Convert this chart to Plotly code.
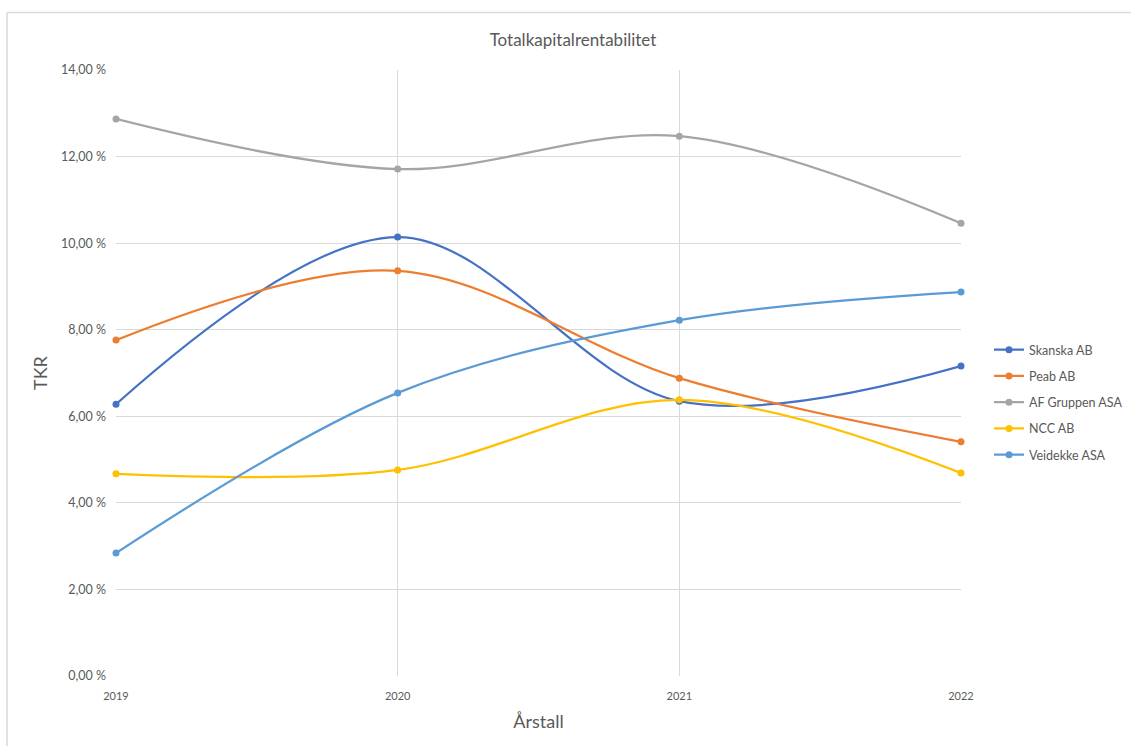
import plotly.graph_objects as go

years = [2019, 2020, 2021, 2022]
skanska = [6.28, 10.14, 6.35, 7.16]
peab = [7.76, 9.36, 6.88, 5.41]
af_gruppen = [12.87, 11.71, 12.47, 10.46]
ncc = [4.67, 4.76, 6.38, 4.69]
veidekke = [2.84, 6.54, 8.22, 8.87]

series = [
    ("Skanska AB", skanska, "#4472C4"),
    ("Peab AB", peab, "#ED7D31"),
    ("AF Gruppen ASA", af_gruppen, "#A5A5A5"),
    ("NCC AB", ncc, "#FFC000"),
    ("Veidekke ASA", veidekke, "#5B9BD5"),
]

FONT = "Lato, 'Open Sans', sans-serif"
GREY = "#595959"

fig = go.Figure()
for name, vals, col in series:
    fig.add_trace(go.Scatter(
        x=years, y=vals, name=name, legendgroup=name,
        mode="lines+markers", cliponaxis=False,
        line=dict(color=col, width=2.25, shape="spline", smoothing=1.0),
        marker=dict(color=col, size=7),
    ))

fig.update_layout(
    width=1131, height=746,
    margin=dict(l=116, r=170, t=70, b=70),
    paper_bgcolor="white", plot_bgcolor="white",
    separators=", ",
    font=dict(family=FONT, color=GREY, size=11),
    title=dict(text="Totalkapitalrentabilitet", x=573 / 1131, xanchor="center",
               y=1 - 40 / 746, yanchor="middle",
               font=dict(size=17, color=GREY, family=FONT)),
    xaxis=dict(
        range=[2019, 2022], tickvals=years, ticktext=[str(y) for y in years],
        showgrid=True, gridcolor="#d9d9d9", gridwidth=1,
        zeroline=False, showline=False, ticks="",
        ticklabelstandoff=12,
        tickfont=dict(size=11, color=GREY),
        title=dict(text="Årstall", font=dict(size=18, color=GREY), standoff=14),
    ),
    yaxis=dict(
        range=[0, 14], dtick=2, tickformat=".2f", ticksuffix=" %",
        showgrid=True, gridcolor="#d9d9d9", gridwidth=1,
        zeroline=False, showline=False, ticks="",
        ticklabelstandoff=9,
        tickfont=dict(size=12.5, color=GREY),
        title=dict(text="TKR", font=dict(size=18, color=GREY), standoff=8),
    ),
    legend=dict(
        xref="container", yref="container",
        x=989 / 1131, y=1 - 335 / 746, xanchor="left", yanchor="top",
        font=dict(size=12.5, color=GREY), traceorder="grouped",
        tracegroupgap=7, bgcolor="rgba(0,0,0,0)",
    ),
    shapes=[
        dict(type="line", xref="paper", yref="paper",
             x0=(7 - 116) / 845, x1=(1131 - 116) / 845,
             y0=(676 - 12.5) / 606, y1=(676 - 12.5) / 606,
             line=dict(color="#d9d9d9", width=1.5)),
        dict(type="line", xref="paper", yref="paper",
             x0=(7 - 116) / 845, x1=(7 - 116) / 845,
             y0=(676 - 12.5) / 606, y1=(676 - 746) / 606,
             line=dict(color="#d9d9d9", width=1.5)),
    ],
)

fig.write_html("out.html")
